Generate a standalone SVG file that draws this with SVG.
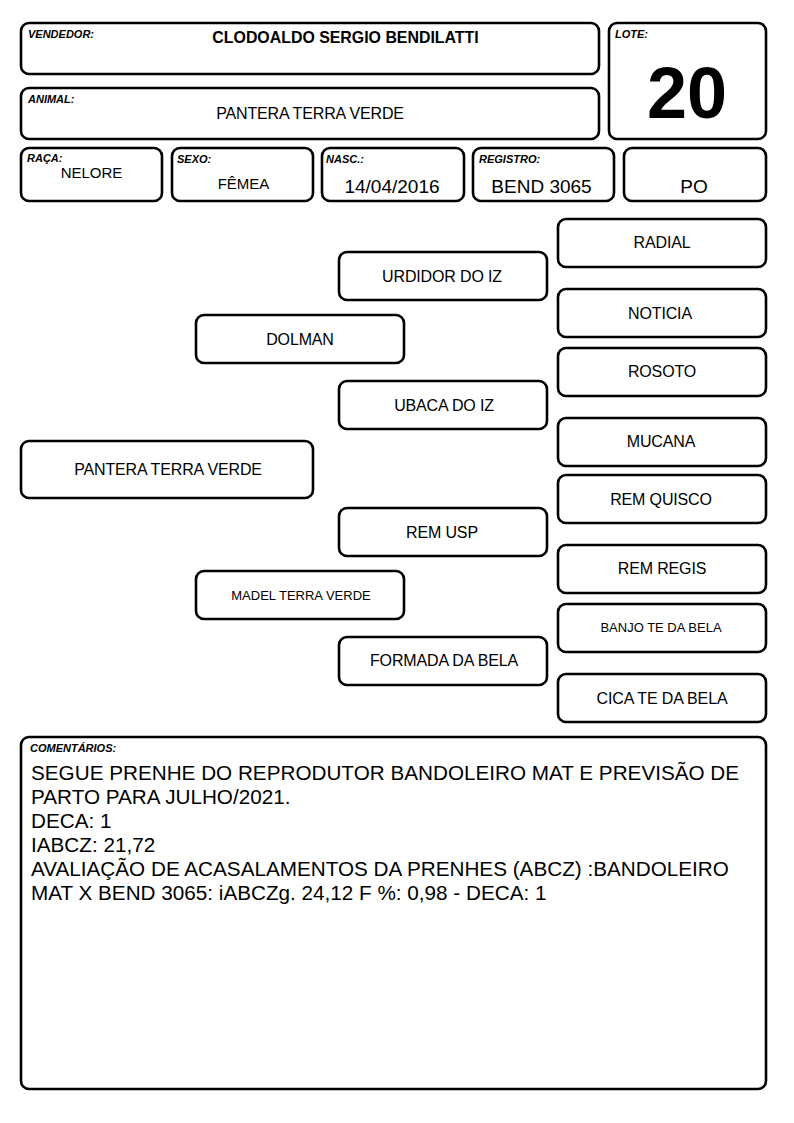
<svg xmlns="http://www.w3.org/2000/svg" width="794" height="1123" viewBox="0 0 794 1123">
<style>
rect{fill:#fff;stroke:#000;stroke-width:2.6}
text{font-family:"Liberation Sans",Arial,sans-serif;fill:#000}
.lbl{font-size:11px;font-weight:bold;font-style:italic}
.v{font-size:16px;text-anchor:middle;letter-spacing:-0.15px}
.s{font-size:13px;text-anchor:middle}
.m{font-size:19px;text-anchor:middle}
.c{font-size:20.7px}
</style>
<rect x="0" y="0" width="794" height="1123" style="fill:#fff;stroke:none"/>
<g id="vendedor"><rect x="21" y="23" width="578" height="51" rx="8"/><text class="lbl" x="28" y="38">VENDEDOR:</text><text x="345.5" y="43" style="font-size:15.9px;font-weight:bold;text-anchor:middle">CLODOALDO SERGIO BENDILATTI</text></g>
<g id="animal"><rect x="21" y="88" width="578" height="51" rx="8"/><text class="lbl" x="28" y="103">ANIMAL:</text><text class="v" x="310" y="119">PANTERA TERRA VERDE</text></g>
<g id="lote"><rect x="609" y="23" width="157" height="116" rx="8"/><text class="lbl" x="615" y="38">LOTE:</text><text x="687" y="118" style="font-size:72px;font-weight:bold;text-anchor:middle">20</text></g>
<g id="raca"><rect x="21" y="148" width="141" height="53" rx="8"/><text class="lbl" x="27" y="162">RAÇA:</text><text x="91.5" y="178" style="font-size:15px;text-anchor:middle">NELORE</text></g>
<g id="sexo"><rect x="172" y="148" width="141" height="53" rx="8"/><text class="lbl" x="177" y="163">SEXO:</text><text x="243.5" y="189" style="font-size:15px;text-anchor:middle">FÊMEA</text></g>
<g id="nasc"><rect x="322" y="148" width="142" height="53" rx="8"/><text class="lbl" x="326" y="163">NASC.:</text><text class="m" x="392" y="193">14/04/2016</text></g>
<g id="registro"><rect x="473" y="148" width="141" height="53" rx="8"/><text class="lbl" x="479" y="163">REGISTRO:</text><text class="m" x="541.5" y="193">BEND 3065</text></g>
<g id="po"><rect x="624" y="148" width="142" height="53" rx="8"/><text class="m" x="694" y="193">PO</text></g>
<g id="connectors"></g>
<g id="animal-node"><rect x="21" y="441" width="292" height="57" rx="8"/><text class="v" x="168" y="475">PANTERA TERRA VERDE</text></g>
<g id="pai"><rect x="196" y="315" width="208" height="48" rx="8"/><text class="v" x="300" y="345">DOLMAN</text></g>
<g id="mae"><rect x="196" y="571" width="208" height="48" rx="8"/><text class="s" x="301" y="600">MADEL TERRA VERDE</text></g>
<g id="avo-pp"><rect x="339" y="252" width="208" height="48" rx="8"/><text class="v" x="442" y="282">URDIDOR DO IZ</text></g>
<g id="avo-pm"><rect x="339" y="381" width="208" height="48" rx="8"/><text class="v" x="444" y="411">UBACA DO IZ</text></g>
<g id="avo-mp"><rect x="339" y="508" width="208" height="48" rx="8"/><text class="v" x="442" y="538">REM USP</text></g>
<g id="avo-mm"><rect x="339" y="637" width="208" height="48" rx="8"/><text class="v" x="444" y="666">FORMADA DA BELA</text></g>
<g id="bis1"><rect x="558" y="219" width="208" height="48" rx="8"/><text class="v" x="662" y="248">RADIAL</text></g>
<g id="bis2"><rect x="558" y="289" width="208" height="48" rx="8"/><text class="v" x="660" y="319">NOTICIA</text></g>
<g id="bis3"><rect x="558" y="348" width="208" height="48" rx="8"/><text class="v" x="662" y="377">ROSOTO</text></g>
<g id="bis4"><rect x="558" y="418" width="208" height="48" rx="8"/><text class="v" x="661" y="447">MUCANA</text></g>
<g id="bis5"><rect x="558" y="475" width="208" height="48" rx="8"/><text class="v" x="661" y="505">REM QUISCO</text></g>
<g id="bis6"><rect x="558" y="545" width="208" height="48" rx="8"/><text class="v" x="662" y="574">REM REGIS</text></g>
<g id="bis7"><rect x="558" y="604" width="208" height="48" rx="8"/><text class="s" x="661" y="632">BANJO TE DA BELA</text></g>
<g id="bis8"><rect x="558" y="674" width="208" height="48" rx="8"/><text class="v" x="662" y="704">CICA TE DA BELA</text></g>
<g id="comentarios"><rect x="21" y="737" width="745" height="352" rx="8"/><text class="lbl" x="30" y="752">COMENTÁRIOS:</text>
<text class="c" x="31" y="780">SEGUE PRENHE DO REPRODUTOR BANDOLEIRO MAT E PREVISÃO DE</text>
<text class="c" x="31" y="804">PARTO PARA JULHO/2021.</text>
<text class="c" x="31" y="828">DECA: 1</text>
<text class="c" x="31" y="852">IABCZ: 21,72</text>
<text class="c" x="31" y="876">AVALIAÇÃO DE ACASALAMENTOS DA PRENHES (ABCZ) :BANDOLEIRO</text>
<text class="c" x="31" y="900">MAT X BEND 3065: iABCZg. 24,12 F %: 0,98 - DECA: 1</text>
</g>
</svg>
